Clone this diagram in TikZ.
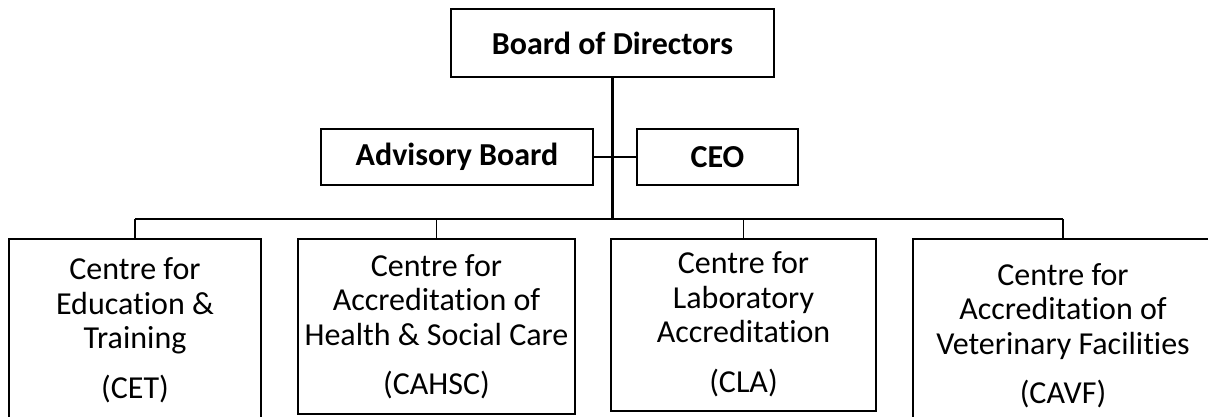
\documentclass[tikz,border=0pt]{standalone}
\usepackage{fontspec}
\setmainfont{Carlito}[Ligatures=NoCommon]
\begin{document}
\begin{tikzpicture}[x=1pt,y=-1pt,
  box/.style={draw, line width=2.4pt, inner sep=0pt},
  head/.style={font=\bfseries\fontsize{32}{38}\selectfont},
  centretext/.style={align=center, inner sep=0pt, font=\fontsize{32}{34.5}\selectfont},
  link/.style={line width=1.2pt},
  trunk/.style={line width=2.2pt}]
\useasboundingbox (0,0) rectangle (1208,417);
\node[box, head, minimum width=323, minimum height=68] (bod) at (612.5,43) {Board of Directors};
\node[box, head, minimum width=272, minimum height=56] (adv) at (457,157) {Advisory Board};
\node[box, head, minimum width=161, minimum height=56] (ceo) at (717.5,157) {CEO};
\coordinate (bus) at (612,219);
\draw[trunk] (bod) -- (bod |- bus);
\draw[line width=2pt] (adv) -- (adv -| bod);
\draw[link] (ceo) -- (ceo -| bod);
% the four centres
\foreach \name/\x/\w/\h/\ty/\texto in {
  cet/135/252/200/330/{Centre for\\Education \&\\Training\\[15pt](CET)},
  cahsc/436.5/277/175/326.5/{Centre for\\Accreditation of\\Health \& Social Care\\[15pt](CAHSC)},
  cla/743.5/265/172/324/{Centre for\\Laboratory\\Accreditation\\[15pt](CLA)},
  cavf/1063/300/200/335.5/{Centre for\\Accreditation of\\Veterinary Facilities\\[15pt](CAVF)}}
{
\node[box, anchor=north, minimum width=\w, minimum height=\h] (\name) at (\x,238) {};
\node[centretext] (\name-text) at (\x,\ty) {\texto};
\draw[link] (\name.north) -- (\name.north |- bus);
}
\draw[link] (cet.north |- bus) -- (cavf.north |- bus);
\end{tikzpicture}
\end{document}
